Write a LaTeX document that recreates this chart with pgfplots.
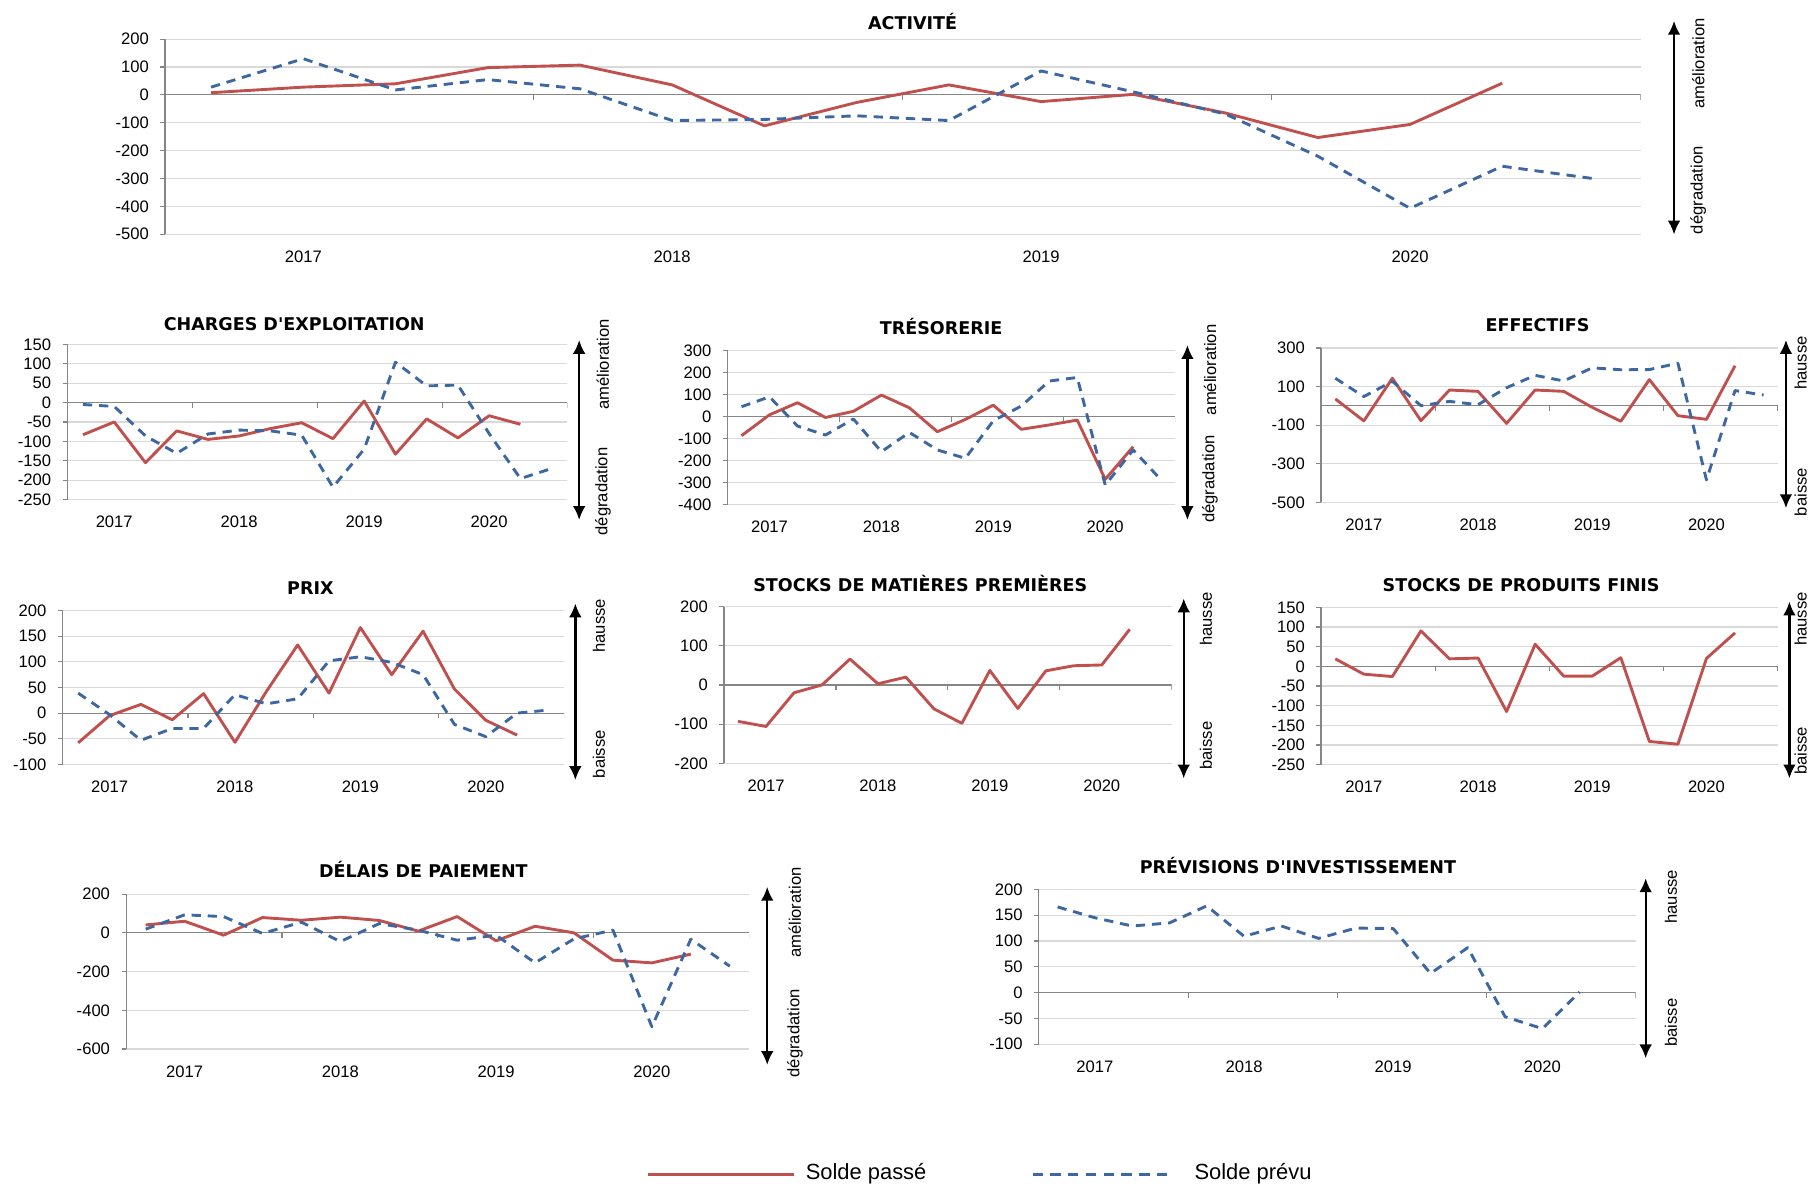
\documentclass[border=0pt]{standalone}
\usepackage{fontspec}
\setmainfont{Liberation Sans}
\newfontfamily\titlefont{DejaVu Sans}
\usepackage{pgfplots}
\pgfplotsset{compat=1.18}
\usepackage{pgfplotstable}
\usetikzlibrary{arrows.meta}

\definecolor{passe}{HTML}{C0504D}
\definecolor{prevu}{HTML}{3C67A0}
\definecolor{axisgray}{HTML}{868686}
\definecolor{gridgray}{HTML}{D9D9D9}

% x = quarter slot (0.5 ... 15.5), a = solde passe, b = solde prevu
\pgfplotstableread{
x     a     b
0.5   8     28
1.5   28    130
2.5   40    18
3.5   98    55
4.5   107   22
5.5   36    -92
6.5   -111  -88
7.5   -27   -75
8.5   36    -92
9.5   -24   86
10.5  2     11
11.5  -65   -69
12.5  -153  -220
13.5  -106  -407
14.5  42    -256
15.5  nan   -301
}\tActivite

\pgfplotstableread{
x     a     b
0.5   -83   -5
1.5   -50   -10
2.5   -155  -86
3.5   -73   -131
4.5   -95   -81
5.5   -86   -71
6.5   -67   -73
7.5   -52   -84
8.5   -93   -218
9.5   4     -120
10.5  -133  104
11.5  -42   43
12.5  -91   45
13.5  -34   -80
14.5  -56   -196
15.5  nan   -170
}\tCharges

\pgfplotstableread{
x     a     b
0.5   -87   45
1.5   8     90
2.5   63    -43
3.5   -4    -84
4.5   24    -11
5.5   98    -160
6.5   40    -72
7.5   -69   -152
8.5   -13   -190
9.5   52    -19
10.5  -58   48
11.5  -38   162
12.5  -16   178
13.5  -286  -312
14.5  -137  -152
15.5  nan   -289
}\tTresorerie

\pgfplotstableread{
x     a     b
0.5   36    143
1.5   -78   48
2.5   143   127
3.5   -77   1
4.5   82    23
5.5   75    6
6.5   -91   94
7.5   82    158
8.5   75    129
9.5   -8    197
10.5  -80   187
11.5  136   188
12.5  -51   221
13.5  -70   -384
14.5  208   79
15.5  nan   56
}\tEffectifs

\pgfplotstableread{
x     a     b
0.5   -58   39
1.5   -5    -3
2.5   17    -53
3.5   -13   -30
4.5   38    -30
5.5   -57   36
6.5   42    18
7.5   133   28
8.5   39    102
9.5   167   110
10.5  75    99
11.5  160   75
12.5  47    -22
13.5  -14   -46
14.5  -43   0
15.5  nan   6
}\tPrix

\pgfplotstableread{
x     a
0.5   -93
1.5   -106
2.5   -20
3.5   0
4.5   66
5.5   3
6.5   20
7.5   -61
8.5   -98
9.5   37
10.5  -60
11.5  36
12.5  49
13.5  51
14.5  142
}\tStocksMP

\pgfplotstableread{
x     a
0.5   19
1.5   -20
2.5   -26
3.5   90
4.5   19
5.5   21
6.5   -115
7.5   56
8.5   -25
9.5   -25
10.5  22
11.5  -191
12.5  -198
13.5  20
14.5  85
}\tStocksPF

\pgfplotstableread{
x     a     b
0.5   41    19
1.5   60    93
2.5   -12   84
3.5   79    -3
4.5   65    55
5.5   81    -45
6.5   64    48
7.5   9     14
8.5   84    -38
9.5   -41   -12
10.5  34    -155
11.5  0     -31
12.5  -141  14
13.5  -155  -485
14.5  -110  -33
15.5  nan   -172
}\tDelais

\pgfplotstableread{
x     b
0.5   166
1.5   145
2.5   129
3.5   135
4.5   168
5.5   109
6.5   129
7.5   105
8.5   125
9.5   124
10.5  37
11.5  87
12.5  -47
13.5  -70
14.5  1
}\tPrevisions

\pgfplotsset{
  panel/.style={
    scale only axis,
    anchor=south west,
    xmin=0, xmax=16,
    axis x line*=bottom, axis y line*=left,
    x axis line style={draw=none},
    y axis line style={draw=axisgray, line width=0.5pt},
    xtick={1.5,5.5,9.5,13.5},
    xticklabels={2017,2018,2019,2020},
    major x tick style={draw=none},
    ytick style={draw=axisgray, line width=0.5pt},
    tick align=outside,
    major tick length=2pt,
    ymajorgrids,
    major grid style={draw=gridgray, line width=0.5pt},
    tick label style={font=\fontsize{7.2}{8}\selectfont},
    xticklabel style={yshift=-1.7pt},
    yticklabel style={xshift=-1.5pt},
    /pgf/number format/assume math mode=true,
  },
  passe/.style={color=passe, line width=1.25pt, line join=round, no marks},
  prevu/.style={color=prevu, line width=1.25pt, line join=round, dash pattern=on 4pt off 3pt, no marks},
}

\newcommand{\zeroline}{%
  \draw[axisgray, line width=0.5pt] (axis cs:0,0) -- (axis cs:16,0);
  \pgfplotsinvokeforeach{4,8,12,16}{\draw[axisgray, line width=0.5pt] (axis cs:##1,0) -- ++(0pt,-2.2pt);}
}
\newcommand{\ptitle}[3]{\node[anchor=base, font=\titlefont\bfseries\fontsize{7.6}{9}\selectfont] at (#1pt,#2pt) {#3};}
\newcommand{\sidearrow}[3]{\draw[line width=1pt, {Latex[length=6pt,width=5.5pt]}-{Latex[length=6pt,width=5.5pt]}] (#1pt,#2pt) -- (#1pt,#3pt);}
\newcommand{\sidetext}[3]{\node[rotate=90, inner sep=0pt, font=\fontsize{7.2}{8}\selectfont] at (#1pt,#2pt) {#3};}

\begin{document}
\begin{tikzpicture}
\path[use as bounding box] (0pt,0pt) rectangle (784pt,516.65pt);

% ACTIVITE
\begin{axis}[panel, at={(71.5pt,415.15pt)}, width=639.5pt, height=84.5pt,
  ymin=-500, ymax=200, ytick={-500,-400,...,200}]
\zeroline
\addplot[passe] table[x=x, y=a] {\tActivite};
\addplot[prevu] table[x=x, y=b] {\tActivite};
\end{axis}
\ptitle{395.5}{503.9}{ACTIVITÉ}
\sidearrow{725.5}{507.6}{415.0}
\sidetext{736}{489.1}{amélioration}
\sidetext{736}{434.2}{dégradation}

% CHARGES D'EXPLOITATION
\begin{axis}[panel, at={(29.2pt,300.15pt)}, width=216.65pt, height=67.25pt,
  ymin=-250, ymax=150, ytick={-250,-200,...,150}]
\zeroline
\addplot[passe] table[x=x, y=a] {\tCharges};
\addplot[prevu] table[x=x, y=b] {\tCharges};
\end{axis}
\ptitle{127.5}{373.3}{CHARGES D'EXPLOITATION}
\sidearrow{251}{369.3}{291.3}
\sidetext{261.3}{358.6}{amélioration}
\sidetext{261.3}{303.6}{dégradation}

% TRESORERIE
\begin{axis}[panel, at={(315.3pt,298.05pt)}, width=194pt, height=66.6pt,
  ymin=-400, ymax=300, ytick={-400,-300,...,300}]
\zeroline
\addplot[passe] table[x=x, y=a] {\tTresorerie};
\addplot[prevu] table[x=x, y=b] {\tTresorerie};
\end{axis}
\ptitle{407.85}{371.7}{TRÉSORERIE}
\sidearrow{514.6}{367.1}{291.3}
\sidetext{524.4}{356.3}{amélioration}
\sidetext{524.4}{309.1}{dégradation}

% EFFECTIFS
\begin{axis}[panel, at={(572.5pt,298.95pt)}, width=198pt, height=66.9pt,
  ymin=-500, ymax=300, ytick={-500,-300,-100,100,300}]
\zeroline
\addplot[passe] table[x=x, y=a] {\tEffectifs};
\addplot[prevu] table[x=x, y=b] {\tEffectifs};
\end{axis}
\ptitle{666.35}{373.05}{EFFECTIFS}
\sidearrow{774}{369.3}{296.4}
\sidetext{780.4}{359.3}{hausse}
\sidetext{780.4}{303.4}{baisse}

% PRIX
\begin{axis}[panel, at={(27.1pt,185.4pt)}, width=217.4pt, height=66.6pt,
  ymin=-100, ymax=200, ytick={-100,-50,...,200}]
\zeroline
\addplot[passe] table[x=x, y=a] {\tPrix};
\addplot[prevu] table[x=x, y=b] {\tPrix};
\end{axis}
\ptitle{134.5}{258.9}{PRIX}
\sidearrow{249.35}{255.1}{178.6}
\sidetext{259.6}{245.4}{hausse}
\sidetext{259.6}{189.8}{baisse}

% STOCKS DE MATIERES PREMIERES
\begin{axis}[panel, at={(313.8pt,185.85pt)}, width=194pt, height=67.9pt,
  ymin=-200, ymax=200, ytick={-200,-100,...,200}]
\zeroline
\addplot[passe] table[x=x, y=a] {\tStocksMP};
\end{axis}
\ptitle{398.85}{260.4}{STOCKS DE MATIÈRES PREMIÈRES}
\sidearrow{513}{257.3}{179.3}
\sidetext{522.6}{248.4}{hausse}
\sidetext{522.6}{193.5}{baisse}

% STOCKS DE PRODUITS FINIS
\begin{axis}[panel, at={(572.5pt,185.25pt)}, width=198pt, height=68.2pt,
  ymin=-250, ymax=150, ytick={-250,-200,...,150}]
\zeroline
\addplot[passe] table[x=x, y=a] {\tStocksPF};
\end{axis}
\ptitle{659.25}{260.4}{STOCKS DE PRODUITS FINIS}
\sidearrow{775.5}{255.9}{179.3}
\sidetext{780.4}{248.4}{hausse}
\sidetext{780.4}{191.2}{baisse}

% DELAIS DE PAIEMENT
\begin{axis}[panel, at={(54.7pt,62pt)}, width=270pt, height=67.15pt,
  ymin=-600, ymax=200, ytick={-600,-400,...,200}]
\zeroline
\addplot[passe] table[x=x, y=a] {\tDelais};
\addplot[prevu] table[x=x, y=b] {\tDelais};
\end{axis}
\ptitle{183.5}{136.15}{DÉLAIS DE PAIEMENT}
\sidearrow{332.5}{132.3}{55.1}
\sidetext{344.5}{121.1}{amélioration}
\sidetext{344.5}{68.8}{dégradation}

% PREVISIONS D'INVESTISSEMENT
\begin{axis}[panel, at={(450.25pt,64.15pt)}, width=258.6pt, height=67.05pt,
  ymin=-100, ymax=200, ytick={-100,-50,...,200}]
\zeroline
\addplot[prevu] table[x=x, y=b] {\tPrevisions};
\end{axis}
\ptitle{562.5}{138.3}{PRÉVISIONS D'INVESTISSEMENT}
\sidearrow{713.2}{136}{58}
\sidetext{724.2}{128}{hausse}
\sidetext{724.2}{73.5}{baisse}

% legend
\draw[passe, line width=1.3pt] (281pt,7.7pt) -- (344pt,7.7pt);
\node[anchor=base west, inner sep=0pt, font=\fontsize{9.5}{11}\selectfont] at (349pt,5.55pt) {Solde passé};
\draw[prevu, line width=1.3pt, dash pattern=on 4.5pt off 3.2pt] (447.5pt,7.7pt) -- (508pt,7.7pt);
\node[anchor=base west, inner sep=0pt, font=\fontsize{9.5}{11}\selectfont] at (517.5pt,5.55pt) {Solde prévu};
\end{tikzpicture}
\end{document}
